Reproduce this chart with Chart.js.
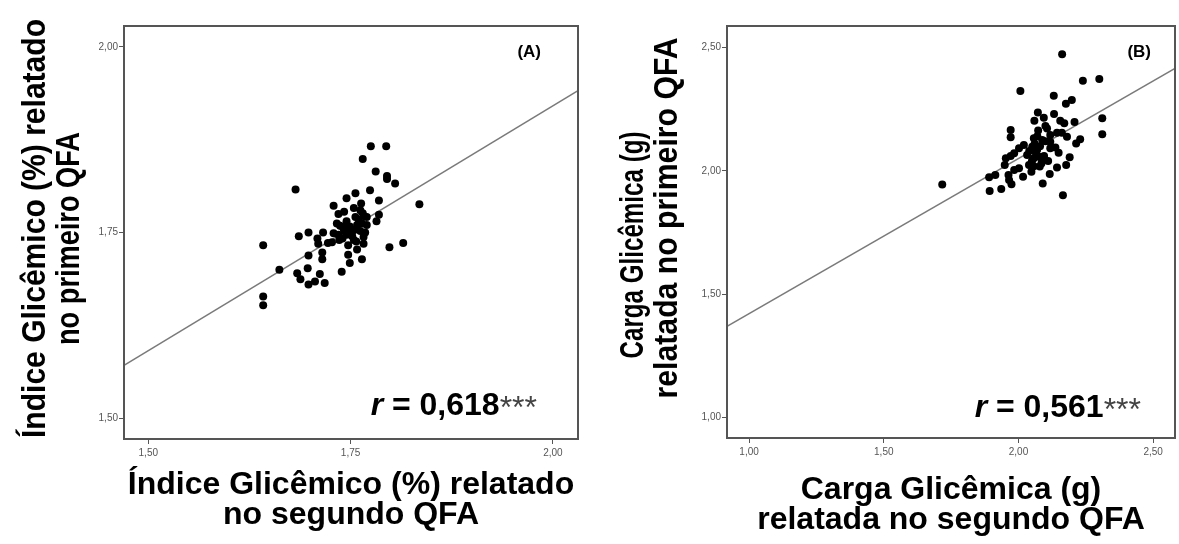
<!DOCTYPE html>
<html lang="pt-BR">
<head>
<meta charset="utf-8">
<title>Índice e Carga Glicêmica - QFA</title>
<script src="https://cdn.jsdelivr.net/npm/chart.js@4.4.1/dist/chart.umd.min.js"></script>
<style>
  html, body { margin: 0; padding: 0; background: #fff; }
  #wrap { position: relative; width: 1179px; height: 544px; overflow: hidden; }
  .painel { position: absolute; top: 0; height: 544px; }
  #painelA { left: 0; width: 600px; }
  #painelB { left: 600px; width: 579px; }
</style>
</head>
<body>
<div id="wrap">
  <div class="painel" id="painelA"><canvas id="chartA"></canvas></div>
  <div class="painel" id="painelB"><canvas id="chartB"></canvas></div>
</div>
<script>
// ---- DADOS (A): Índice Glicêmico, segundo QFA (x) vs primeiro QFA (y) ----
const giSegundo = [1.775, 1.794, 1.765, 1.781, 1.795, 1.795, 1.805, 1.682, 1.774, 1.756,
  1.785, 1.745, 1.729, 1.835, 1.763, 1.742, 1.754, 1.765, 1.767, 1.785,
  1.735, 1.756, 1.770, 1.782, 1.733, 1.737, 1.741, 1.749, 1.760, 1.764,
  1.729, 1.735, 1.745, 1.754, 1.698, 1.716, 1.686, 1.709, 1.710, 1.722,
  1.727, 1.740, 1.754, 1.766, 1.766, 1.747, 1.758, 1.642, 1.798, 1.815,
  1.698, 1.715, 1.715, 1.747, 1.749, 1.764, 1.662, 1.697, 1.739, 1.684,
  1.688, 1.712, 1.698, 1.706, 1.718, 1.642, 1.642, 1.745, 1.750, 1.758,
  1.762, 1.742, 1.752, 1.762, 1.770, 1.736, 1.757, 1.744, 1.768];
const giPrimeiro = [1.866, 1.866, 1.849, 1.832, 1.826, 1.822, 1.816, 1.808, 1.807, 1.803,
  1.793, 1.796, 1.786, 1.788, 1.789, 1.778, 1.783, 1.776, 1.772, 1.774,
  1.775, 1.771, 1.771, 1.765, 1.762, 1.759, 1.756, 1.758, 1.767, 1.762,
  1.749, 1.747, 1.747, 1.753, 1.750, 1.750, 1.745, 1.742, 1.735, 1.736,
  1.737, 1.742, 1.740, 1.744, 1.735, 1.733, 1.727, 1.733, 1.730, 1.736,
  1.719, 1.723, 1.714, 1.720, 1.709, 1.714, 1.700, 1.702, 1.697, 1.695,
  1.687, 1.694, 1.680, 1.684, 1.682, 1.664, 1.652, 1.765, 1.750, 1.760,
  1.752, 1.752, 1.745, 1.780, 1.760, 1.740, 1.738, 1.758, 1.750];
const giRetaX = [1.470, 2.031];
const giRetaY = [1.571, 1.941];
const giEixoX = [1.470, 2.031];
const giEixoY = [1.472, 2.028];
const giTicks = [1.50, 1.75, 2.00];
const giR = 0.618;

// ---- DADOS (B): Carga Glicêmica, segundo QFA (x) vs primeiro QFA (y) ----
const cgSegundo = [2.162, 2.239, 2.300, 2.007, 2.131, 2.198, 2.176, 2.072, 2.132, 2.094,
  2.059, 2.155, 2.170, 2.208, 2.311, 2.100, 2.106, 1.971, 1.971, 2.073,
  2.118, 2.143, 2.161, 2.180, 2.311, 2.057, 2.088, 2.118, 2.229, 2.214,
  2.020, 2.002, 2.051, 2.069, 2.118, 2.137, 2.149, 1.984, 2.032, 2.057,
  2.076, 2.088, 1.971, 1.953, 2.190, 1.949, 2.039, 2.057, 2.079, 2.177,
  2.002, 1.984, 2.143, 2.048, 1.914, 1.891, 1.963, 1.965, 2.017, 2.116,
  1.974, 1.717, 2.090, 1.893, 1.936, 2.165, 2.065, 2.080, 2.095, 2.060,
  2.100, 2.040, 2.085, 2.110, 2.070, 2.050];
const cgPrimeiro = [2.472, 2.365, 2.372, 2.324, 2.304, 2.287, 2.272, 2.236, 2.230, 2.215,
  2.203, 2.203, 2.193, 2.198, 2.213, 2.182, 2.172, 2.165, 2.136, 2.163,
  2.145, 2.154, 2.154, 2.138, 2.148, 2.132, 2.125, 2.118, 2.128, 2.111,
  2.105, 2.091, 2.098, 2.084, 2.091, 2.095, 2.073, 2.071, 2.064, 2.051,
  2.057, 2.044, 2.060, 2.051, 2.055, 2.024, 2.024, 2.019, 2.017, 2.024,
  2.010, 2.003, 2.013, 1.996, 1.983, 1.974, 1.983, 1.963, 1.976, 1.987,
  1.946, 1.945, 1.949, 1.918, 1.926, 1.901, 2.070, 2.100, 2.060, 2.110,
  2.120, 2.080, 2.030, 2.040, 2.140, 2.040];
const cgRetaX = [0.918, 2.581];
const cgRetaY = [1.370, 2.415];
const cgEixoX = [0.918, 2.581];
const cgEixoY = [0.917, 2.587];
const cgTicks = [1.00, 1.50, 2.00, 2.50];
const cgR = 0.561;

const FONTE = '"Liberation Sans", Arial, Helvetica, sans-serif';
const virgula = (v, casas) => Number(v).toFixed(casas).replace('.', ',');

// moldura completa em volta da área do gráfico
const moldura = {
  id: 'moldura',
  afterDraw(chart) {
    const { ctx, chartArea: a } = chart;
    ctx.save();
    ctx.strokeStyle = '#555';
    ctx.lineWidth = 2;
    ctx.strokeRect(a.left, a.top, a.right - a.left, a.bottom - a.top);
    ctx.restore();
  }
};

// título do eixo Y (duas linhas, rotacionado e comprimido como no original)
const tituloY = {
  id: 'tituloY',
  afterDraw(chart, args, o) {
    const { ctx, chartArea } = chart;
    const meio = (chartArea.top + chartArea.bottom) / 2;
    ctx.save();
    ctx.fillStyle = '#000';
    ctx.textAlign = 'center';
    ctx.textBaseline = 'alphabetic';
    ctx.font = `bold ${o.size}px ${FONTE}`;
    o.linhas.forEach((txt, i) => {
      const w = ctx.measureText(txt).width;
      ctx.save();
      ctx.translate(o.base[i], meio + o.desvio[i]);
      ctx.rotate(-Math.PI / 2);
      ctx.scale(o.comprimento[i] / w, 1);
      ctx.fillText(txt, 0, 0);
      ctx.restore();
    });
    ctx.restore();
  }
};

// rótulo do painel e coeficiente r
const anotacoes = {
  id: 'anotacoes',
  afterDraw(chart, args, o) {
    const { ctx } = chart;
    ctx.save();
    ctx.textBaseline = 'alphabetic';
    ctx.fillStyle = '#000';
    ctx.font = `bold 17px ${FONTE}`;
    ctx.textAlign = 'right';
    ctx.fillText(o.painel, o.painelX, o.painelY);

    const partes = [
      { t: 'r', f: `italic bold 32px ${FONTE}`, c: '#000', dy: 0 },
      { t: ' = ' + virgula(o.r, 3), f: `bold 32px ${FONTE}`, c: '#000', dy: 0 },
      { t: '***', f: `32px ${FONTE}`, c: '#444', dy: 3 }
    ];
    let total = 0;
    partes.forEach(p => { ctx.font = p.f; p.w = ctx.measureText(p.t).width; total += p.w; });
    let x = o.rX - total;
    ctx.textAlign = 'left';
    partes.forEach(p => {
      ctx.font = p.f;
      ctx.fillStyle = p.c;
      ctx.fillText(p.t, x, o.rY + p.dy);
      x += p.w;
    });
    ctx.restore();
  }
};

function eixo(range, ticks, tamanho, horizontal, padding, titulo, tituloPad) {
  return {
    type: 'linear',
    position: horizontal ? 'bottom' : 'left',
    min: range[0],
    max: range[1],
    afterBuildTicks: s => { s.ticks = ticks.map(v => ({ value: v })); },
    afterFit: s => {
      if (horizontal) { s.height = tamanho; s.paddingRight = 0; s.paddingLeft = 0; }
      else s.width = tamanho;
    },
    grid: { drawOnChartArea: false, drawTicks: true, tickLength: 5, color: '#555', lineWidth: 1 },
    border: { display: false },
    ticks: {
      padding: padding,
      color: '#555',
      autoSkip: false,
      maxRotation: 0,
      font: { family: FONTE, size: 10 },
      callback: v => virgula(v, 2)
    },
    title: titulo ? {
      display: true,
      text: titulo,
      color: '#000',
      font: { family: FONTE, size: 32, weight: 'bold', lineHeight: 0.94 },
      padding: { top: 0, bottom: tituloPad }
    } : { display: false }
  };
}

function criarGrafico(id, p) {
  const pontos = p.xs.map((x, i) => ({ x: x, y: p.ys[i] }));
  const reta = p.retaX.map((x, i) => ({ x: x, y: p.retaY[i] }));
  return new Chart(document.getElementById(id), {
    type: 'scatter',
    data: {
      datasets: [
        { type: 'scatter', data: pontos, pointRadius: 4, pointHoverRadius: 4,
          backgroundColor: '#000', borderWidth: 0, order: 1 },
        { type: 'line', data: reta, borderColor: '#7a7a7a', borderWidth: 1.5,
          pointRadius: 0, fill: false, tension: 0, order: 2 }
      ]
    },
    options: {
      responsive: true,
      maintainAspectRatio: false,
      animation: false,
      events: [],
      layout: { padding: { top: 26, right: p.padDireita, left: 0, bottom: 0 } },
      scales: {
        x: eixo(p.eixoX, p.ticks, p.alturaX, true, 3, p.tituloX, p.tituloPad),
        y: eixo(p.eixoY, p.ticks, p.larguraY, false, 1, null, 0)
      },
      plugins: {
        legend: { display: false },
        tooltip: { enabled: false },
        tituloY: p.tituloY,
        anotacoes: p.anotacoes
      }
    },
    plugins: [moldura, tituloY, anotacoes]
  });
}

criarGrafico('chartA', {
  xs: giSegundo, ys: giPrimeiro, retaX: giRetaX, retaY: giRetaY,
  eixoX: giEixoX, eixoY: giEixoY, ticks: giTicks,
  larguraY: 124, alturaX: 105, padDireita: 22, tituloPad: 14,
  tituloX: ['Índice Glicêmico (%) relatado', 'no segundo QFA'],
  tituloY: { linhas: ['Índice Glicêmico (%) relatado', 'no primeiro QFA'],
             size: 34, base: [45, 79], desvio: [-4, 6], comprimento: [419, 213] },
  anotacoes: { painel: '(A)', painelX: 541, painelY: 57, r: giR, rX: 537, rY: 415 }
});

criarGrafico('chartB', {
  xs: cgSegundo, ys: cgPrimeiro, retaX: cgRetaX, retaY: cgRetaY,
  eixoX: cgEixoX, eixoY: cgEixoY, ticks: cgTicks,
  larguraY: 127, alturaX: 106, padDireita: 1, tituloPad: 9,
  tituloX: ['Carga Glicêmica (g)', 'relatada no segundo QFA'],
  tituloY: { linhas: ['Carga Glicêmica (g)', 'relatada no primeiro QFA'],
             size: 34, base: [43, 77], desvio: [13, -14], comprimento: [227, 361] },
  anotacoes: { painel: '(B)', painelX: 551, painelY: 57, r: cgR, rX: 541, rY: 417 }
});
</script>
</body>
</html>
